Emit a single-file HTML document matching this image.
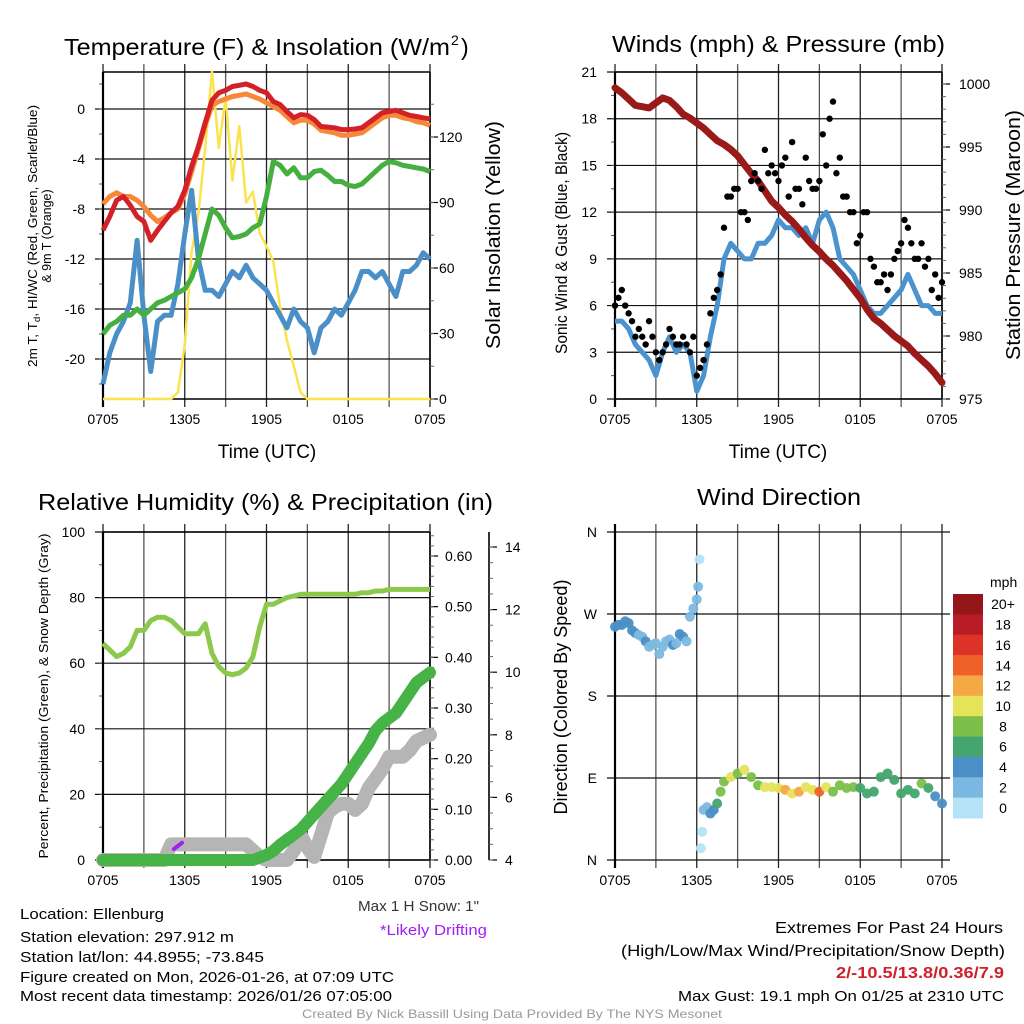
<!DOCTYPE html>
<html><head><meta charset="utf-8"><title>Mesonet Station Plot</title>
<style>
html,body{margin:0;padding:0;background:#fff;}
svg{display:block;font-family:"Liberation Sans",sans-serif;}
</style></head>
<body>
<svg id="fig" xmlns="http://www.w3.org/2000/svg" width="1024" height="1024" viewBox="0 0 1024 1024">
<rect x="0" y="0" width="1024" height="1024" fill="#fff"/>
<g id="layer"></g>
<!-- titles -->
<text x="64" y="55" font-size="23" textLength="386" lengthAdjust="spacingAndGlyphs">Temperature (F) &amp; Insolation (W/m</text>
<text x="451" y="45" font-size="14">2</text>
<text x="461" y="55" font-size="23">)</text>
<text x="612" y="52" font-size="23" textLength="333" lengthAdjust="spacingAndGlyphs">Winds (mph) &amp; Pressure (mb)</text>
<text x="38" y="510" font-size="23" textLength="455" lengthAdjust="spacingAndGlyphs">Relative Humidity (%) &amp; Precipitation (in)</text>
<text x="697" y="505" font-size="23" textLength="164" lengthAdjust="spacingAndGlyphs">Wind Direction</text>
<!-- axis titles -->
<text x="267" y="458" font-size="19" text-anchor="middle">Time (UTC)</text>
<text x="778" y="458" font-size="19" text-anchor="middle">Time (UTC)</text>
<text transform="translate(37,236) rotate(-90)" font-size="12.5" text-anchor="middle" textLength="262" lengthAdjust="spacingAndGlyphs">2m T, T<tspan font-size="9" dy="3">d</tspan><tspan dy="-3">, HI/WC (Red, Green, Scarlet/Blue)</tspan></text>
<text transform="translate(51,236) rotate(-90)" font-size="12.5" text-anchor="middle">&amp; 9m T (Orange)</text>
<text transform="translate(500,235) rotate(-90)" font-size="20" text-anchor="middle" textLength="228" lengthAdjust="spacingAndGlyphs">Solar Insolation (Yellow)</text>
<text transform="translate(567,243) rotate(-90)" font-size="17" text-anchor="middle" textLength="222" lengthAdjust="spacingAndGlyphs">Sonic Wind &amp; Gust (Blue, Black)</text>
<text transform="translate(1020,235) rotate(-90)" font-size="20" text-anchor="middle" textLength="250" lengthAdjust="spacingAndGlyphs">Station Pressure (Maroon)</text>
<text transform="translate(48,696) rotate(-90)" font-size="13" text-anchor="middle" textLength="325" lengthAdjust="spacingAndGlyphs">Percent, Precipitation (Green), &amp; Snow Depth (Gray)</text>
<text transform="translate(567,697) rotate(-90)" font-size="18" text-anchor="middle" textLength="235" lengthAdjust="spacingAndGlyphs">Direction (Colored By Speed)</text>
<text x="990" y="587" font-size="14">mph</text>
<!-- footer -->
<g font-size="15">
<text x="20" y="919" textLength="144" lengthAdjust="spacingAndGlyphs">Location: Ellenburg</text>
<text x="20" y="942" textLength="214" lengthAdjust="spacingAndGlyphs">Station elevation: 297.912 m</text>
<text x="20" y="962" textLength="244" lengthAdjust="spacingAndGlyphs">Station lat/lon: 44.8955; -73.845</text>
<text x="20" y="982" textLength="374" lengthAdjust="spacingAndGlyphs">Figure created on Mon, 2026-01-26, at 07:09 UTC</text>
<text x="20" y="1001" textLength="372" lengthAdjust="spacingAndGlyphs">Most recent data timestamp: 2026/01/26 07:05:00</text>
</g>
<text x="358" y="911" font-size="15" fill="#333" textLength="121" lengthAdjust="spacingAndGlyphs">Max 1 H Snow: 1"</text>
<text x="380" y="935" font-size="15" fill="#a020f0" textLength="107" lengthAdjust="spacingAndGlyphs">*Likely Drifting</text>
<text x="1003" y="933" font-size="16" text-anchor="end" textLength="228" lengthAdjust="spacingAndGlyphs">Extremes For Past 24 Hours</text>
<text x="1005" y="956" font-size="16" text-anchor="end" textLength="384" lengthAdjust="spacingAndGlyphs">(High/Low/Max Wind/Precipitation/Snow Depth)</text>
<text x="1004" y="978" font-size="16" font-weight="bold" fill="#d0202a" text-anchor="end" textLength="168" lengthAdjust="spacingAndGlyphs">2/-10.5/13.8/0.36/7.9</text>
<text x="1004" y="1001" font-size="15" text-anchor="end" textLength="326" lengthAdjust="spacingAndGlyphs">Max Gust: 19.1 mph On 01/25 at 2310 UTC</text>
<text x="512" y="1018" font-size="12" fill="#999" text-anchor="middle" textLength="420" lengthAdjust="spacingAndGlyphs">Created By Nick Bassill Using Data Provided By The NYS Mesonet</text>
</svg>
<script>
// ---------- DATA (half-hour steps from 0705 UTC) ----------
const timeLabels = ["0705","1305","1905","0105","0705"];
const tempRed = [-9.7,-8.6,-7.3,-7.0,-7.7,-8.6,-9,-10.5,-9.7,-9,-8.3,-7.8,-6.5,-4.6,-3,-1.1,0.7,1.3,1.5,1.8,1.9,2.0,1.8,1.5,1.3,0.6,0.35,-0.2,-0.7,-0.45,-0.5,-0.85,-1.4,-1.45,-1.5,-1.65,-1.65,-1.6,-1.5,-1.1,-0.7,-0.3,-0.2,-0.1,-0.3,-0.5,-0.6,-0.7,-0.8];
const tempOrange = [-7.6,-7.0,-6.7,-7.0,-7.0,-7.3,-7.8,-8.5,-9.0,-8.7,-8.3,-8.0,-6.8,-5.0,-3.2,-1.3,0.3,0.6,0.8,1.0,1.1,1.2,1.0,0.8,0.5,0.2,-0.1,-0.6,-1.1,-0.9,-0.9,-1.2,-1.7,-1.8,-1.9,-2.1,-2.1,-2.0,-1.9,-1.5,-1.1,-0.7,-0.5,-0.5,-0.7,-0.8,-1.0,-1.1,-1.3];
const dewGreen = [-18,-17.3,-17,-16.5,-16.5,-16,-16.5,-16,-15.5,-15.3,-15,-14.7,-14.4,-13.5,-12,-10,-8,-8.5,-9.5,-10.3,-10.2,-10,-9.5,-9.2,-7,-4.2,-4.5,-5.2,-4.7,-5.5,-5.5,-5,-4.9,-5.3,-5.8,-5.8,-6.1,-6.2,-6,-5.5,-5,-4.5,-4.2,-4.3,-4.5,-4.6,-4.7,-4.8,-5];
const chillBlue = [-22,-19.5,-18,-17,-15.5,-10.5,-16.5,-21,-17,-16.5,-16.5,-14,-10,-6.5,-12,-14.5,-14.5,-15,-14,-13,-13.5,-12.5,-13.5,-14,-14.5,-15.5,-16.5,-17.5,-16,-17,-17.5,-19.5,-17.5,-17,-16,-16.5,-15.5,-14.5,-13,-13,-13.5,-13,-14,-15,-13,-13,-12.5,-11.5,-12];
const solar = [0,0,0,0,0,0,0,0,0,0,0,3,25,67,85,115,150,115,138,100,125,90,95,76,70,63,42,27,15,3,0,0,0,0,0,0,0,0,0,0,0,0,0,0,0,0,0,0,0];
const tempTicks = [0,-4,-8,-12,-16,-20];
const solarTicks = [0,30,60,90,120];

const pressure = [999.7,999.3,998.8,998.3,998.2,998.1,998.5,998.9,998.7,998.2,997.6,997.3,996.9,996.5,996.0,995.5,995.2,994.8,994.3,993.6,992.9,992.3,991.5,990.7,990.2,989.6,989.1,988.5,987.8,987.2,986.7,986.1,985.6,985.0,984.4,983.7,983.0,982.1,981.4,981.0,980.5,980.0,979.6,979.2,978.6,978.1,977.6,977.0,976.3];
const windSpeed = [5,5,4.5,3.5,3,2.5,1.5,3,4,3,3.5,3,0.5,1.5,4,6,9,10,9.5,9,9,10,10,10.5,11.5,11,11,10.5,11,10,11.5,12,11,9,8.5,8,7,6,5.5,5.5,6,6.5,7,8,7,6,6,5.5,5.5];
const gustA = [6,7,5.5,4,4,5,3,3,4.5,3.5,4,3,1.5,2.5,5.5,7,11,13,13.5,12,14,14,16,15,14,15.5,16.5,13.5,15.5,13.5,14,15,19.1,15.5,13,12,10.5,12,8.5,7.5,7,9,10,11,9,10,9,8,7.5];
const gustB = [6.5,6,5,4.5,3.5,4,2.5,3.5,4,3.5,3.5,4,2,3.5,6.5,8,13,13.5,12,11.5,14.5,13.5,14.5,14.5,15,13,13.5,12.5,14,13.5,17,18,14.5,13,12,10,12,9,7.5,8,8,9.5,11.5,10,9,8.5,7,6.5];
const windTicks = [0,3,6,9,12,15,18,21];
const pressureTicks = [975,980,985,990,995,1000];

const rhValues = [66,64,62,63,65,70,70,73,74,74,73,71,69,69,69,72,63,59,57,56.5,57,58.5,62,71,78,78,79,80,80.5,81,81,81,81,81,81,81,81,81,81.5,81.5,82,82,82.5,82.5,82.5,82.5,82.5,82.5,82.5];
const precipValues = [0,0,0,0,0,0,0,0,0,0,0,0,0,0,0,0,0,0,0,0,0,0,0,0.005,0.01,0.018,0.03,0.04,0.05,0.06,0.075,0.09,0.105,0.12,0.135,0.15,0.17,0.19,0.21,0.23,0.255,0.27,0.28,0.29,0.31,0.33,0.35,0.36,0.37];
const snowDepth = [4,4,4,4,4,4,4,4,4,4,4.5,4.5,4.5,4.5,4.5,4.5,4.5,4.5,4.5,4.5,4.5,4.5,4.3,4.1,4.0,4.0,4.0,4.0,4.3,4.8,4.4,4.1,4.8,5.5,5.7,5.8,5.8,5.6,5.8,6.3,6.6,6.9,7.3,7.3,7.3,7.5,7.8,7.9,8.0];
const driftHours = [5.2,5.5,5.8];
const driftDepth = [4.35,4.45,4.55];
const rhTicks = [0,20,40,60,80,100];
const precipTicks = [0,0.1,0.2,0.3,0.4,0.5,0.6];
const snowTicks = [4,6,8,10,12,14];

const dirHours = [0,0.25,0.5,0.75,1,1.25,1.5,1.75,2,2.25,2.5,2.75,3,3.25,3.5,3.75,4,4.25,4.5,4.75,5,5.25,5.5,5.75,6,6.1,6.2,6.3,6.4,6.5,6.75,7,7.25,7.5,7.75,8,8.5,9,9.5,10,10.5,11,11.5,12,12.5,13,13.5,14,14.5,15,15.5,16,16.5,17,17.5,18,18.5,19,19.5,20,20.5,21,21.5,22,22.5,23,23.5,24];
const dirValues = [256,258,258,262,260,252,249,247,245,240,234,236,238,226,234,240,242,236,238,248,245,240,267,276,286,300,330,13,31,55,58,51,55,62,75,86,91,95,99,91,82,80,80,79,77,73,75,80,77,75,80,75,82,79,80,79,73,75,91,95,88,73,77,73,84,79,70,62];
const dirSpeeds = [4,4,5,4,4,4,4,3,3,4,3,3,3,2,3,3,3,4,2,4,4,3,3,2,3,2,1,1,1,3,3,4,5,7,8,9,10,9,10,8,8,10,10,11,13,11,12,10,11,14,11,9,9,8,8,7,7,7,6,6,6,7,7,7,8,6,5,4];
const dirTicks = [0,90,180,270,360];
const dirTickLabels = ["N","E","S","W","N"];
const speedBins = ["0","2","4","6","8","10","12","14","16","18","20+"];
const speedColors = ["#b5e2f7","#7cb9e2","#4a8fc6","#45a56e","#7cc04a","#e5e35a","#f5a844","#ee6229","#dc3228","#b91c24","#931619"];

// ---------- RENDER ----------
const NS = "http://www.w3.org/2000/svg";
const layer = document.getElementById("layer");
function add(tag, attrs, name) {
  const e = document.createElementNS(NS, tag);
  for (const k in attrs) e.setAttribute(k, attrs[k]);
  
  
  layer.appendChild(e);
  return e;
}
function addText(x, y, s, anchor, size, name) {
  const t = add("text", {x: x, y: y, "font-size": size, "text-anchor": anchor}, name);
  t.textContent = s;
  return t;
}
function linePath(values, xf, yf, step, start) {
  let d = "";
  values.forEach((v, i) => { d += (i ? "L" : "M") + xf((start || 0) + i * step).toFixed(1) + "," + yf(v).toFixed(1); });
  return d;
}
function timeAxis(P, prefix) {
  const xs = h => P.x0 + (h / 24) * (P.x1 - P.x0);
  for (let h = 0; h <= 24; h += 3) {
    add("line", {x1: xs(h), x2: xs(h), y1: P.yTop - 8, y2: P.yBot + 8, stroke: h % 6 ? "#555" : "#222", "stroke-width": 1.3}, prefix + "-vertical-gridline");
  }
  timeLabels.forEach((s, i) => addText(xs(i * 6), P.yBot + 25, s, "middle", 14, prefix + "-x-tick-label"));
  return xs;
}
function leftAxis(P, ticks, yf, prefix, fmt, minorStep) {
  ticks.forEach(v => {
    add("line", {x1: P.x0 - 8, x2: P.x1, y1: yf(v), y2: yf(v), stroke: "#111", "stroke-width": 1.2}, prefix + "-horizontal-gridline");
    addText(P.x0 - 18, yf(v) + 5, fmt ? fmt(v) : String(v), "end", 14, prefix + "-y-tick-label");
  });
  if (minorStep) {
    const lo = Math.min(...ticks), hi = Math.max(...ticks);
    for (let v = lo - minorStep; v <= hi + minorStep; v += minorStep) {
      const y = yf(v);
      if (y > P.yTop && y < P.yBot) add("line", {x1: P.x0 - 4, x2: P.x0, y1: y, y2: y, stroke: "#555", "stroke-width": 1}, prefix + "-y-minor-tick");
    }
  }
}
function rightAxis(ax, P, ticks, yf, prefix, fmt, minorStep, labelGap) {
  add("line", {x1: ax, x2: ax, y1: P.yTop, y2: P.yBot, stroke: "#000", "stroke-width": 1.6}, prefix + "-right-axis-line");
  ticks.forEach(v => {
    add("line", {x1: ax, x2: ax + 8, y1: yf(v), y2: yf(v), stroke: "#000", "stroke-width": 1.2}, prefix + "-right-tick");
    addText(ax + labelGap, yf(v) + 5, fmt ? fmt(v) : String(v), "start", 14, prefix + "-right-tick-label");
  });
  const lo = Math.min(...ticks), hi = Math.max(...ticks);
  for (let v = lo; v <= hi + 3 * minorStep; v += minorStep) {
    const y = yf(v);
    if (y >= P.yTop && y <= P.yBot) add("line", {x1: ax, x2: ax + 4, y1: y, y2: y, stroke: "#666", "stroke-width": 1}, prefix + "-right-minor-tick");
  }
}
function frame(P, prefix) {
  add("line", {x1: P.x0, x2: P.x1, y1: P.yTop, y2: P.yTop, stroke: "#000", "stroke-width": 1.5}, prefix + "-top-border");
  add("line", {x1: P.x0, x2: P.x1, y1: P.yBot, y2: P.yBot, stroke: "#000", "stroke-width": 1.5}, prefix + "-bottom-border");
  add("line", {x1: P.x0, x2: P.x0, y1: P.yTop, y2: P.yBot + 8, stroke: "#000", "stroke-width": 2.2}, prefix + "-left-axis-line");
}

// Panel 1: temperature
(function () {
  const P = {x0: 103, x1: 430, yTop: 72, yBot: 399};
  const yT = v => 109 - v * 12.5;
  const yS = v => 399 - v * (262 / 120);
  const xs = timeAxis(P, "temperature");
  leftAxis(P, tempTicks, yT, "temperature", null, 2);
  frame(P, "temperature");
  rightAxis(P.x1, P, solarTicks, yS, "insolation", null, 15, 9);
  add("path", {d: linePath(solar, xs, yS, 0.5), fill: "none", stroke: "#fbe34f", "stroke-width": 2.5, "stroke-linejoin": "round"}, "solar-insolation-line");
  add("path", {d: linePath(chillBlue, xs, yT, 0.5), fill: "none", stroke: "#4b8fc8", "stroke-width": 5, "stroke-linejoin": "round"}, "wind-chill-line");
  add("path", {d: linePath(dewGreen, xs, yT, 0.5), fill: "none", stroke: "#45b03f", "stroke-width": 5, "stroke-linejoin": "round"}, "dewpoint-line");
  add("path", {d: linePath(tempOrange, xs, yT, 0.5), fill: "none", stroke: "#f7883a", "stroke-width": 5, "stroke-linejoin": "round"}, "temperature-9m-line");
  add("path", {d: linePath(tempRed, xs, yT, 0.5), fill: "none", stroke: "#d42128", "stroke-width": 5, "stroke-linejoin": "round"}, "temperature-2m-line");
})();

// Panel 2: winds & pressure
(function () {
  const P = {x0: 615, x1: 942, yTop: 72, yBot: 399};
  const yW = v => 399 - v * (327 / 21);
  const yP = v => 399 - (v - 975) * 12.6;
  const xs = timeAxis(P, "winds");
  leftAxis(P, windTicks, yW, "winds", null, 1.5);
  frame(P, "winds");
  rightAxis(P.x1, P, pressureTicks, yP, "pressure", null, 1, 17);
  add("path", {d: linePath(windSpeed, xs, yW, 0.5), fill: "none", stroke: "#4b93cf", "stroke-width": 5, "stroke-linejoin": "round"}, "wind-speed-line");
  add("path", {d: linePath(pressure, xs, yP, 0.5), fill: "none", stroke: "#9a1a1a", "stroke-width": 7, "stroke-linejoin": "round", "stroke-linecap": "round"}, "pressure-line");
  gustA.forEach((v, i) => {
    add("circle", {cx: xs(i * 0.5), cy: yW(v), r: 3.2, fill: "#000"}, "gust-point");
  });
  gustB.forEach((v, i) => {
    add("circle", {cx: xs(0.25 + i * 0.5), cy: yW(v), r: 3.2, fill: "#000"}, "gust-point");
  });
})();

// Panel 3: RH, precip, snow
(function () {
  const P = {x0: 103, x1: 430, yTop: 532, yBot: 860};
  const yR = v => 860 - v * 3.28;
  const yIn = v => 860 - v * (304 / 0.6);
  const ySn = v => 860 - (v - 4) * 31.3;
  const xs = timeAxis(P, "humidity");
  leftAxis(P, rhTicks, yR, "humidity", null, 10);
  frame(P, "humidity");
  rightAxis(P.x1, P, precipTicks, yIn, "precipitation", v => v.toFixed(2), 0.02, 15);
  rightAxis(489, P, snowTicks, ySn, "snow-depth", null, 0.5, 16);
  add("path", {d: linePath(snowDepth, xs, ySn, 0.5), fill: "none", stroke: "#b5b5b5", "stroke-width": 14, "stroke-linejoin": "round", "stroke-linecap": "round"}, "snow-depth-line");
  let dd = "";
  driftHours.forEach((h, i) => { dd += (i ? "L" : "M") + xs(h) + "," + ySn(driftDepth[i]); });
  add("path", {d: dd, fill: "none", stroke: "#a020f0", "stroke-width": 4, "stroke-linecap": "round"}, "drifting-segment");
  add("path", {d: linePath(precipValues, xs, yIn, 0.5), fill: "none", stroke: "#46b346", "stroke-width": 12, "stroke-linejoin": "round", "stroke-linecap": "round"}, "precipitation-line");
  add("path", {d: linePath(rhValues, xs, yR, 0.5), fill: "none", stroke: "#8cc84b", "stroke-width": 5, "stroke-linejoin": "round"}, "relative-humidity-line");
})();

// Panel 4: wind direction
(function () {
  const P = {x0: 615, x1: 942, yTop: 532, yBot: 860};
  const yD = v => 860 - v * (328 / 360);
  const xs = timeAxis(P, "direction");
  dirTicks.forEach((v, i) => {
    add("line", {x1: P.x0 - 8, x2: P.x1 + 8, y1: yD(v), y2: yD(v), stroke: "#111", "stroke-width": 1.2}, "direction-horizontal-gridline");
    addText(P.x0 - 18, yD(v) + 5, dirTickLabels[i], "end", 14, "direction-y-tick-label");
  });
  add("line", {x1: P.x0, x2: P.x0, y1: P.yTop - 8, y2: P.yBot + 8, stroke: "#000", "stroke-width": 2.2}, "direction-left-axis-line");
  const colorFor = s => speedColors[Math.min(10, Math.floor(s / 2))];
  dirValues.forEach((d, i) => {
    add("circle", {cx: xs(dirHours[i]), cy: yD(d), r: 5, fill: colorFor(dirSpeeds[i]), "fill-opacity": 0.95}, "direction-point");
  });
  const cbTop = 594, cbH = 224 / 11;
  speedBins.forEach((lab, i) => {
    const k = 10 - i;
    add("rect", {x: 953, y: cbTop + i * cbH, width: 30, height: cbH + 0.5, fill: speedColors[k]}, "colorbar-swatch");
    addText(1003, cbTop + i * cbH + cbH / 2 + 5, speedBins[k], "middle", 14, "colorbar-label");
  });
})();
</script>
</body></html>
